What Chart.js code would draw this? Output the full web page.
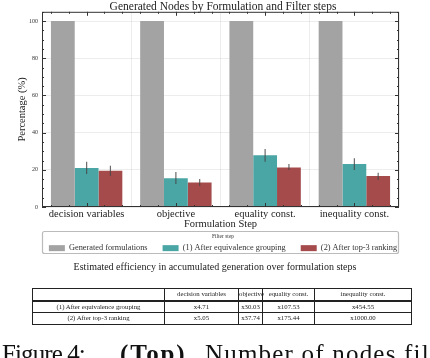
<!DOCTYPE html>
<html>
<head>
<meta charset="utf-8">
<script src="https://cdn.jsdelivr.net/npm/chart.js@4.4.0/dist/chart.umd.min.js"></script>
<style>
  body { margin: 0; width: 430px; height: 358px; overflow: hidden; background: #fff; font-family: "Liberation Serif", serif; position: relative; }
  #wrap { position: absolute; left: 0; top: 0; width: 430px; height: 258px; }
  #cap { position: absolute; left: 0; width: 430px; top: 261px; text-align: center; font-size: 10px; color: #222; will-change: transform; }
  #tbl { position: absolute; left: 32px; top: 288px; width: 374px; table-layout: fixed; border-collapse: collapse; font-size: 6.8px; color: #222; will-change: transform; }
  #tbl td { border: 1.2px solid #222; text-align: center; padding: 0; height: 10.5px; line-height: 10px; white-space: nowrap; overflow: visible; }
  #tbl tr.head td { border-bottom: 2px solid #222; }
  .fig { position: absolute; top: 341px; font-size: 25px; line-height: 25px; white-space: nowrap; color: #111; will-change: transform; }
</style>
</head>
<body>
<div id="wrap"><canvas id="myChart"></canvas></div>
<div id="cap">Estimated efficiency in accumulated generation over formulation steps</div>
<table id="tbl"></table>
<div class="fig" style="left:2px; letter-spacing:-0.9px">Figure 4:</div>
<div class="fig" style="left:120px; letter-spacing:1.8px; font-weight:bold">(Top)</div>
<div class="fig" style="left:205px; letter-spacing:1.2px">Number of nodes filtered</div>

<script>
// valores
let pasos = ["decision variables", "objective", "equality const.", "inequality const."];
let filtros = ["Generated formulations", "(1) After equivalence grouping", "(2) After top-3 ranking"];
let generados = [100, 100, 100, 100];
let agrupados = [21.0, 15.4, 27.8, 23.1];
let ranking = [19.5, 13.2, 21.3, 16.7];
let agrupadosMin = [17.7, 12.4, 24.4, 19.9];
let agrupadosMax = [24.4, 18.8, 31.2, 26.2];
let rankingMin = [16.7, 11.3, 19.9, 14.5];
let rankingMax = [22.2, 15.0, 23.1, 18.4];
let yTicks = [0, 20, 40, 60, 80, 100];

// tabla de eficiencia
let filasTabla = ["(1) After equivalence grouping", "(2) After top-3 ranking"];
let eficienciaAgrup = ["x4.71", "x30.03", "x107.53", "x454.55"];
let eficienciaRank = ["x5.05", "x37.74", "x175.44", "x1000.00"];

function dibujaTabla() {
  let textInner = '<tr class="head"><td style="width:131px"></td>';
  let anchos = [73, 23, 51, 96];
  pasos.forEach((p, i) => {
    textInner += '<td style="width:' + anchos[i] + 'px">' + p + '</td>';
  });
  textInner += '</tr>';
  [eficienciaAgrup, eficienciaRank].forEach((fila, j) => {
    textInner += '<tr><td>' + filasTabla[j] + '</td>';
    fila.forEach((v) => { textInner += '<td>' + v + '</td>'; });
    textInner += '</tr>';
  });
  document.querySelector("#tbl").innerHTML = textInner;
}
dibujaTabla();

const serif = "'Liberation Serif', serif";

// barras de error
const errorBars = {
  id: "errorBars",
  afterDatasetsDraw(chart) {
    const ctx = chart.ctx;
    const y = chart.scales.y;
    const rangos = { 1: [agrupadosMin, agrupadosMax], 2: [rankingMin, rankingMax] };
    ctx.save();
    ctx.strokeStyle = "rgba(70,70,70,0.8)";
    ctx.lineWidth = 1.2;
    Object.keys(rangos).forEach((k) => {
      const meta = chart.getDatasetMeta(k);
      meta.data.forEach((bar, i) => {
        ctx.beginPath();
        ctx.moveTo(bar.x, y.getPixelForValue(rangos[k][0][i]));
        ctx.lineTo(bar.x, y.getPixelForValue(rangos[k][1][i]));
        ctx.stroke();
      });
    });
    ctx.restore();
  }
};

// marco, ticks hacia dentro y borde de la leyenda
const marco = {
  id: "marco",
  afterDraw(chart) {
    const ctx = chart.ctx;
    const a = chart.chartArea;
    const y = chart.scales.y;
    const x = chart.scales.x;
    ctx.save();
    ctx.strokeStyle = "#333";
    ctx.lineWidth = 1;
    ctx.strokeRect(a.left + 0.5, a.top + 0.5, a.right - a.left - 1, a.bottom - a.top - 1);
    ctx.beginPath();
    for (let v = 0; v <= 105; v += 5) {
      const py = Math.round(y.getPixelForValue(v)) + 0.5;
      const len = v % 20 == 0 ? 4 : 2;
      ctx.moveTo(a.left, py); ctx.lineTo(a.left + len, py);
      ctx.moveTo(a.right, py); ctx.lineTo(a.right - len, py);
    }
    const paso = (x.getPixelForValue(1) - x.getPixelForValue(0)) / 5;
    pasos.forEach((p, i) => {
      const cx = x.getPixelForValue(i);
      for (let k = -2; k <= 2; k++) {
        const px = Math.round(cx + k * paso) + 0.5;
        const len = k == 0 ? 4 : 2;
        ctx.moveTo(px, a.top); ctx.lineTo(px, a.top + len);
        ctx.moveTo(px, a.bottom); ctx.lineTo(px, a.bottom - len);
      }
    });
    ctx.stroke();
    // borde de la leyenda, alineado con el area del grafico
    const l = chart.legend;
    ctx.strokeStyle = "#bbb";
    ctx.lineWidth = 1.2;
    ctx.beginPath();
    ctx.roundRect(a.left + 0.5, l.top + 0.5, a.right - a.left - 1, l.height - 1, 2);
    ctx.stroke();
    ctx.restore();
  }
};

const data = {
  labels: pasos,
  datasets: [
    { label: filtros[0], data: generados, backgroundColor: "#a3a3a3" },
    { label: filtros[1], data: agrupados, backgroundColor: "#4aa5a5" },
    { label: filtros[2], data: ranking, backgroundColor: "#a54b4b" },
  ],
};

const config = {
  type: "bar",
  data,
  plugins: [errorBars, marco],
  options: {
    responsive: true,
    maintainAspectRatio: false,
    animation: false,
    layout: { padding: { left: 16, right: 0, top: 0, bottom: 4 } },
    datasets: { bar: { categoryPercentage: 0.8, barPercentage: 1.0 } },
    plugins: {
      title: {
        display: true,
        text: "Generated Nodes by Formulation and Filter steps",
        color: "#222",
        font: { family: serif, size: 11.5, weight: "normal" },
        padding: { top: 0, bottom: -2 },
      },
      legend: {
        position: "bottom",
        maxHeight: 23,
        title: { display: true, text: "Filter step", color: "#333", font: { family: serif, size: 5.5 }, padding: { top: 3, bottom: -11.6 } },
        labels: {
          boxWidth: 16, boxHeight: 6, padding: 15,
          color: "#333",
          font: { family: serif, size: 8.3 },
        },
      },
      tooltip: { enabled: false },
    },
    scales: {
      x: {
        grid: { color: "rgba(0,0,0,0.07)", drawTicks: false },
        border: { display: false },
        ticks: { color: "#222", font: { family: serif, size: 10.5 }, padding: 1 },
        title: { display: true, text: "Formulation Step", color: "#222", font: { family: serif, size: 10.5 }, padding: 0 },
        afterFit: (s) => { s.height = 24; },
      },
      y: {
        min: 0, max: 105,
        afterBuildTicks: (s) => { s.ticks = yTicks.map((v) => ({ value: v })); },
        grid: { color: "rgba(0,0,0,0.07)", drawTicks: false },
        border: { display: false },
        ticks: { color: "#333", font: { family: serif, size: 6 }, padding: 4 },
        title: { display: true, text: "Percentage (%)", color: "#222", font: { family: serif, size: 10.5 }, padding: 0 },
        afterFit: (s) => { s.width = 26; },
      },
      // margen derecho vacio
      y2: {
        position: "right",
        grid: { display: false },
        border: { display: false },
        ticks: { display: false },
        afterFit: (s) => { s.width = 31; },
      },
    },
  },
};
var myChart = new Chart(document.getElementById("myChart"), config);
</script>
</body>
</html>
